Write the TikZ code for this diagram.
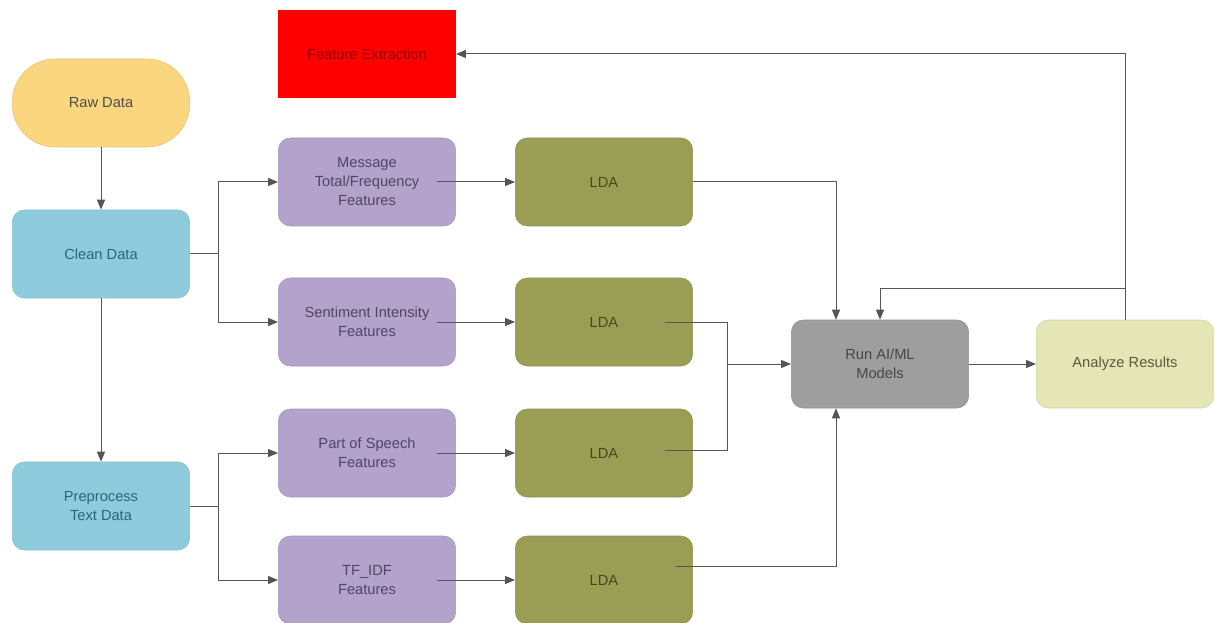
\documentclass[tikz,border=0pt]{standalone}
\usepackage{fontspec}
\setmainfont{Liberation Sans}
\usepackage[usenames,dvipsnames]{xcolor}
\usetikzlibrary{arrows.meta}
\usetikzlibrary{positioning}

\definecolor{rawc}{HTML}{FAD77F}
\definecolor{cleanc}{HTML}{8ECCDD}
\definecolor{featc}{HTML}{B3A2CC}
\definecolor{ldac}{HTML}{9A9E55}
\definecolor{runc}{HTML}{9E9E9E}
\definecolor{resc}{HTML}{E4E6B5}
\definecolor{linec}{HTML}{555555}

\begin{document}
\begin{tikzpicture}[x=0.75pt,y=-0.75pt,
        blk/.style = {rounded corners=9pt, minimum width=133pt, minimum height=66pt,
                      align=center, inner sep=2pt, font=\fontsize{11}{14.25}\selectfont},
        rawbox/.style = {blk, rounded corners=32pt, fill=rawc, draw=rawc!90!black, line width=0.4pt, text=black!70},
        cleanbox/.style = {blk, fill=cleanc, draw=cleanc!92!black, line width=0.4pt, text={rgb,255:red,45;green,100;blue,125}},
        featbox/.style = {blk, fill=featc, draw=featc!92!black, line width=0.4pt, text={rgb,255:red,80;green,70;blue,100}},
        ldabox/.style = {blk, fill=ldac, draw=ldac!92!black, line width=0.4pt, text={rgb,255:red,70;green,72;blue,25}},
        link/.style = {draw=linec, line width=0.75pt, -{Triangle[length=7.5pt,width=6pt]}},
        plain/.style = {draw=linec, line width=0.75pt},
    ]
    \useasboundingbox (0,0) rectangle (1219,623);
    % Raw / clean / preprocess
    \node[rawbox] (raw) at (101,103) {Raw Data};
    \node[cleanbox] (clean) at (101,254) {Clean Data};
    \node[cleanbox] (prep) at (101,506) {Preprocess\\Text Data};
    % Feature Extraction
    \node[blk, rounded corners=0pt, fill=red, text={rgb,255:red,150;green,0;blue,0}] (fx) at (367,54) {Feature Extraction};
    % Features
    \node[featbox] (msg) at (367,182) {Message\\Total/Frequency\\Features};
    \node[featbox] (sent) at (367,322) {Sentiment Intensity\\Features};
    \node[featbox] (pos) at (367,453) {Part of Speech\\Features};
    \node[featbox] (tfidf) at (367,580) {TF\_IDF\\Features};
    % LDA
    \node[ldabox] (lda1) at (604,182) {LDA};
    \node[ldabox] (lda2) at (604,322) {LDA};
    \node[ldabox] (lda3) at (604,453) {LDA};
    \node[ldabox] (lda4) at (604,580) {LDA};
    % Models and results
    \node[blk, fill=runc, draw=runc!92!black, line width=0.4pt, text=black!72] (run) at (880,364) {Run AI/ML\\Models};
    \node[blk, fill=resc, draw=resc!92!black, line width=0.4pt, text={rgb,255:red,90;green,90;blue,60}] (res) at (1125,364) {Analyze Results};

    % data flow
    \draw[link] (raw) -- (clean);
    \draw[link] (clean) -- (prep);
    \draw[plain] (clean.east) -- ++(29,0) coordinate (cj);
    \draw[link] (cj) |- (msg.west);
    \draw[link] (cj) |- (sent.west);
    \draw[plain] (prep.east) -- ++(29,0) coordinate (pj);
    \draw[link] (pj) |- (pos.west);
    \draw[link] (pj) |- (tfidf.west);
    % features to LDA
    \draw[link] ([xshift=-14pt]msg.east) -- (lda1.west);
    \draw[link] ([xshift=-14pt]sent.east) -- (lda2.west);
    \draw[link] ([xshift=-14pt]pos.east) -- (lda3.west);
    \draw[link] ([xshift=-14pt]tfidf.east) -- (lda4.west);
    % LDA to models
    \coordinate (lj) at (727,364);
    \draw[link] (lda1.east) -| ([xshift=-33pt]run.north);
    \draw[plain] ([xshift=-21pt]lda2.east) -| (lj);
    \draw[plain] ([xshift=-21pt,yshift=2pt]lda3.east) -| (lj);
    \draw[link] (lj) -- (run.west);
    \draw[link] ([xshift=-13pt,yshift=10pt]lda4.east) -| ([xshift=-33pt]run.south);
    % results
    \draw[link] (run) -- (res);
    \draw[link] (res.north) -- ++(0,-31) -| (run.north);
    \draw[link] (res.north) |- (fx.east);
\end{tikzpicture}
\end{document}
